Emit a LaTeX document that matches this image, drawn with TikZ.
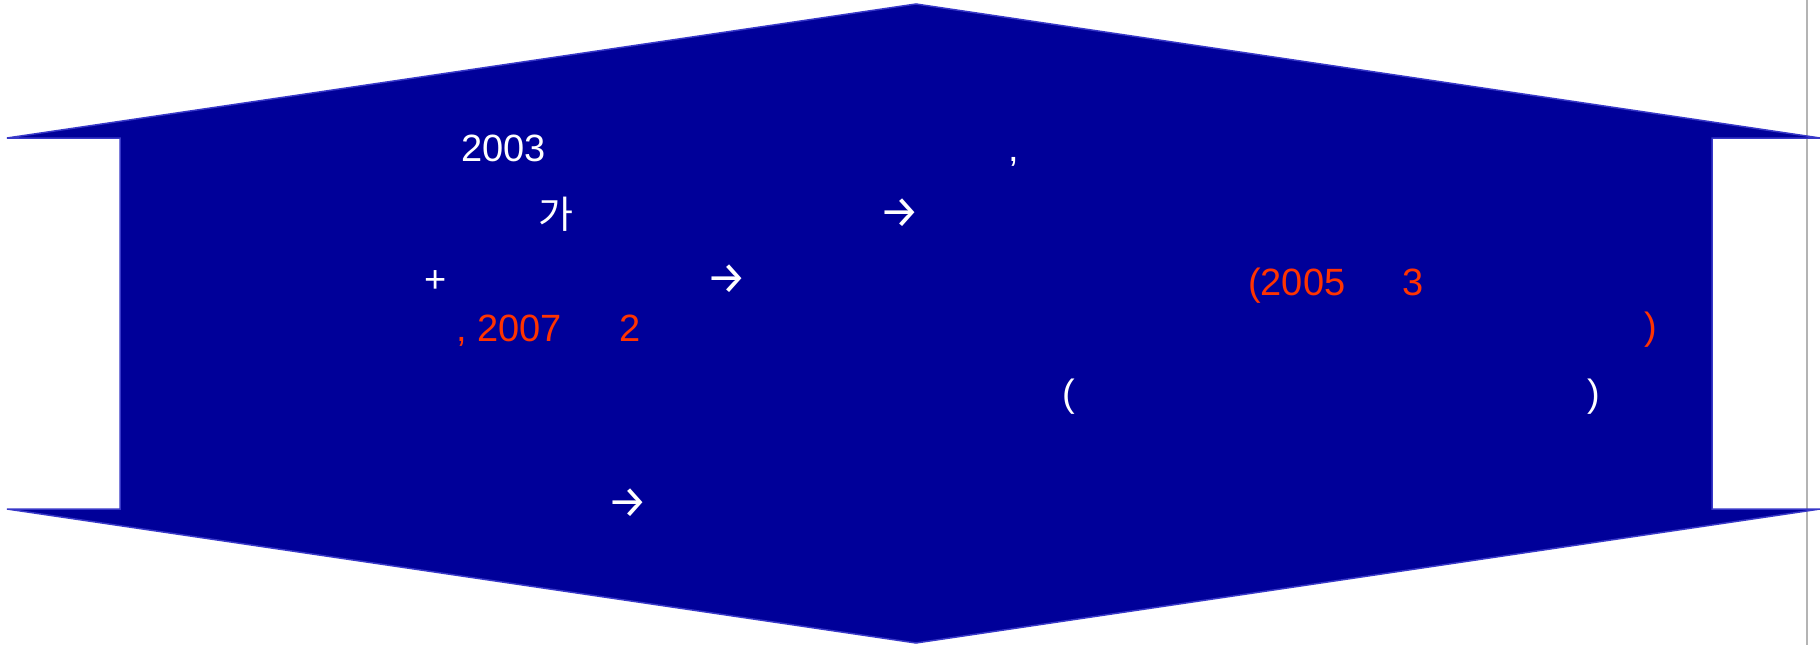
\documentclass[tikz,border=0pt]{standalone}
\usepackage{fontspec}
\setmainfont{Liberation Sans}
\newfontfamily\krfont{Noto Sans CJK KR}
\newfontfamily\arrowfont{Fira Sans}
\usetikzlibrary{positioning}
\definecolor{BannerFill}{HTML}{000099}
\definecolor{BannerEdge}{HTML}{3838C8}
\definecolor{HiRed}{HTML}{FF3300}
\definecolor{RuleGray}{HTML}{B4B4B4}
\tikzset{txt/.style={font=\fontsize{38}{40}\selectfont,inner sep=0pt,text=white},
 hilite/.style={txt,text=HiRed},
 kr/.style={txt,font=\fontsize{38}{40}\selectfont\krfont},
 arr/.style={txt,font=\fontsize{45}{48}\selectfont\arrowfont}}
\begin{document}
\begin{tikzpicture}[x=1pt,y=-1pt]
\useasboundingbox (0,0) rectangle (1820,645);
\draw[RuleGray,line width=2.5pt] (1807,0)--(1807,645);
\draw[BannerEdge,fill=BannerFill,line width=1.5pt,line join=miter] (916,4)--(1820,138)--(1712,138)--(1712,509)--(1820,509)--(916,643)--(7,509)--(120,509)--(120,138)--(7,138)--cycle;
% white text, row by row
\node[txt,anchor=base west] (yr) at (461,161) {2003};
\node[txt,anchor=base west] (comma) at (1008,161) {,};
\node[kr] (ga) at (556,214) {가};
\node[arr] (arrA) at (900,213) {→};
\node[txt] (plus) at (436,282) {+};
\node[arr] (arrB) at (727,279) {→};
\node[txt] (lpar) at (1069,397) {(};
\node[txt] (rpar) at (1594,397) {)};
\node[arr] (arrC) at (628,503) {→};
% red text
\node[hilite,anchor=base west] (start) at (1248,295) {(2005};
\node[hilite,anchor=base west] (month) at (1402,295) {3};
\node[hilite] (close) at (1651,330) {)};
\node[hilite,anchor=base west] (end) at (456,341) {, 2007};
\node[hilite,anchor=base west] (endm) at (619,341) {2};
\end{tikzpicture}
\end{document}
